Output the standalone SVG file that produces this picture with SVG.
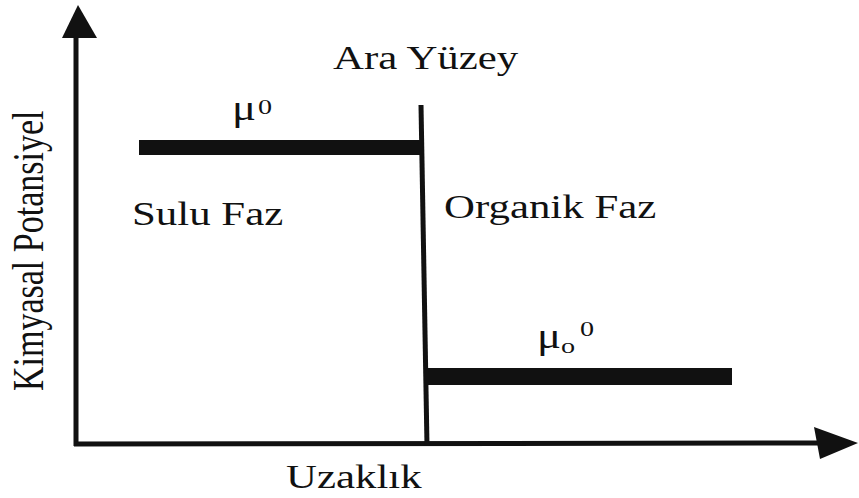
<svg xmlns="http://www.w3.org/2000/svg" width="859" height="498" viewBox="0 0 859 498">
<style>
.t{font-family:"Liberation Serif","Times New Roman",serif;fill:#111;}
.ax{stroke:#111;stroke-width:5;fill:none;}
.bar{fill:#111;}
.ah{fill:#111;}
</style>
<rect width="859" height="498" fill="#fff"/>
<g id="connectors">
<line class="ax" x1="76" y1="446" x2="76" y2="34"/>
<polygon class="ah" points="78,5 62,38 97,38"/>
<line class="ax" x1="74" y1="444" x2="818" y2="443"/>
<polygon class="ah" points="858,443 814,427 820,459"/>
<line class="ax" x1="421" y1="105" x2="427" y2="446"/>
</g>
<g id="bar-mu0">
<rect class="bar" x="139" y="140" width="283" height="15"/>
</g>
<g id="bar-muo0">
<rect class="bar" x="425" y="368" width="307" height="17"/>
</g>
<g id="label-ara-yuzey">
<text class="t" font-size="33.5" transform="matrix(1.28,0,0,1,333,69)">Ara Yüzey</text>
</g>
<g id="label-mu0">
<text class="t" font-size="35" transform="matrix(1.28,0,0,1,232,120)">μ</text>
<text class="t" font-size="22" transform="matrix(1.28,0,0,1,258,114)">0</text>
</g>
<g id="label-sulu-faz">
<text class="t" font-size="33.5" transform="matrix(1.28,0,0,1,132,225)">Sulu Faz</text>
</g>
<g id="label-organik-faz">
<text class="t" font-size="33.5" transform="matrix(1.28,0,0,1,444,218)">Organik Faz</text>
</g>
<g id="label-muo0">
<text class="t" font-size="35" transform="matrix(1.28,0,0,1,537,348)">μ</text>
<text class="t" font-size="22" transform="matrix(1.28,0,0,1,561,353)">o</text>
<text class="t" font-size="22" transform="matrix(1.28,0,0,1,580,336)">0</text>
</g>
<g id="label-uzaklik">
<text class="t" font-size="33.5" transform="matrix(1.28,0,0,1,286,488)">Uzaklık</text>
</g>
<g id="label-kimyasal">
<text class="t" font-size="34" transform="translate(43,391) scale(1.28,1) rotate(-90)">Kimyasal Potansiyel</text>
</g>
</svg>
